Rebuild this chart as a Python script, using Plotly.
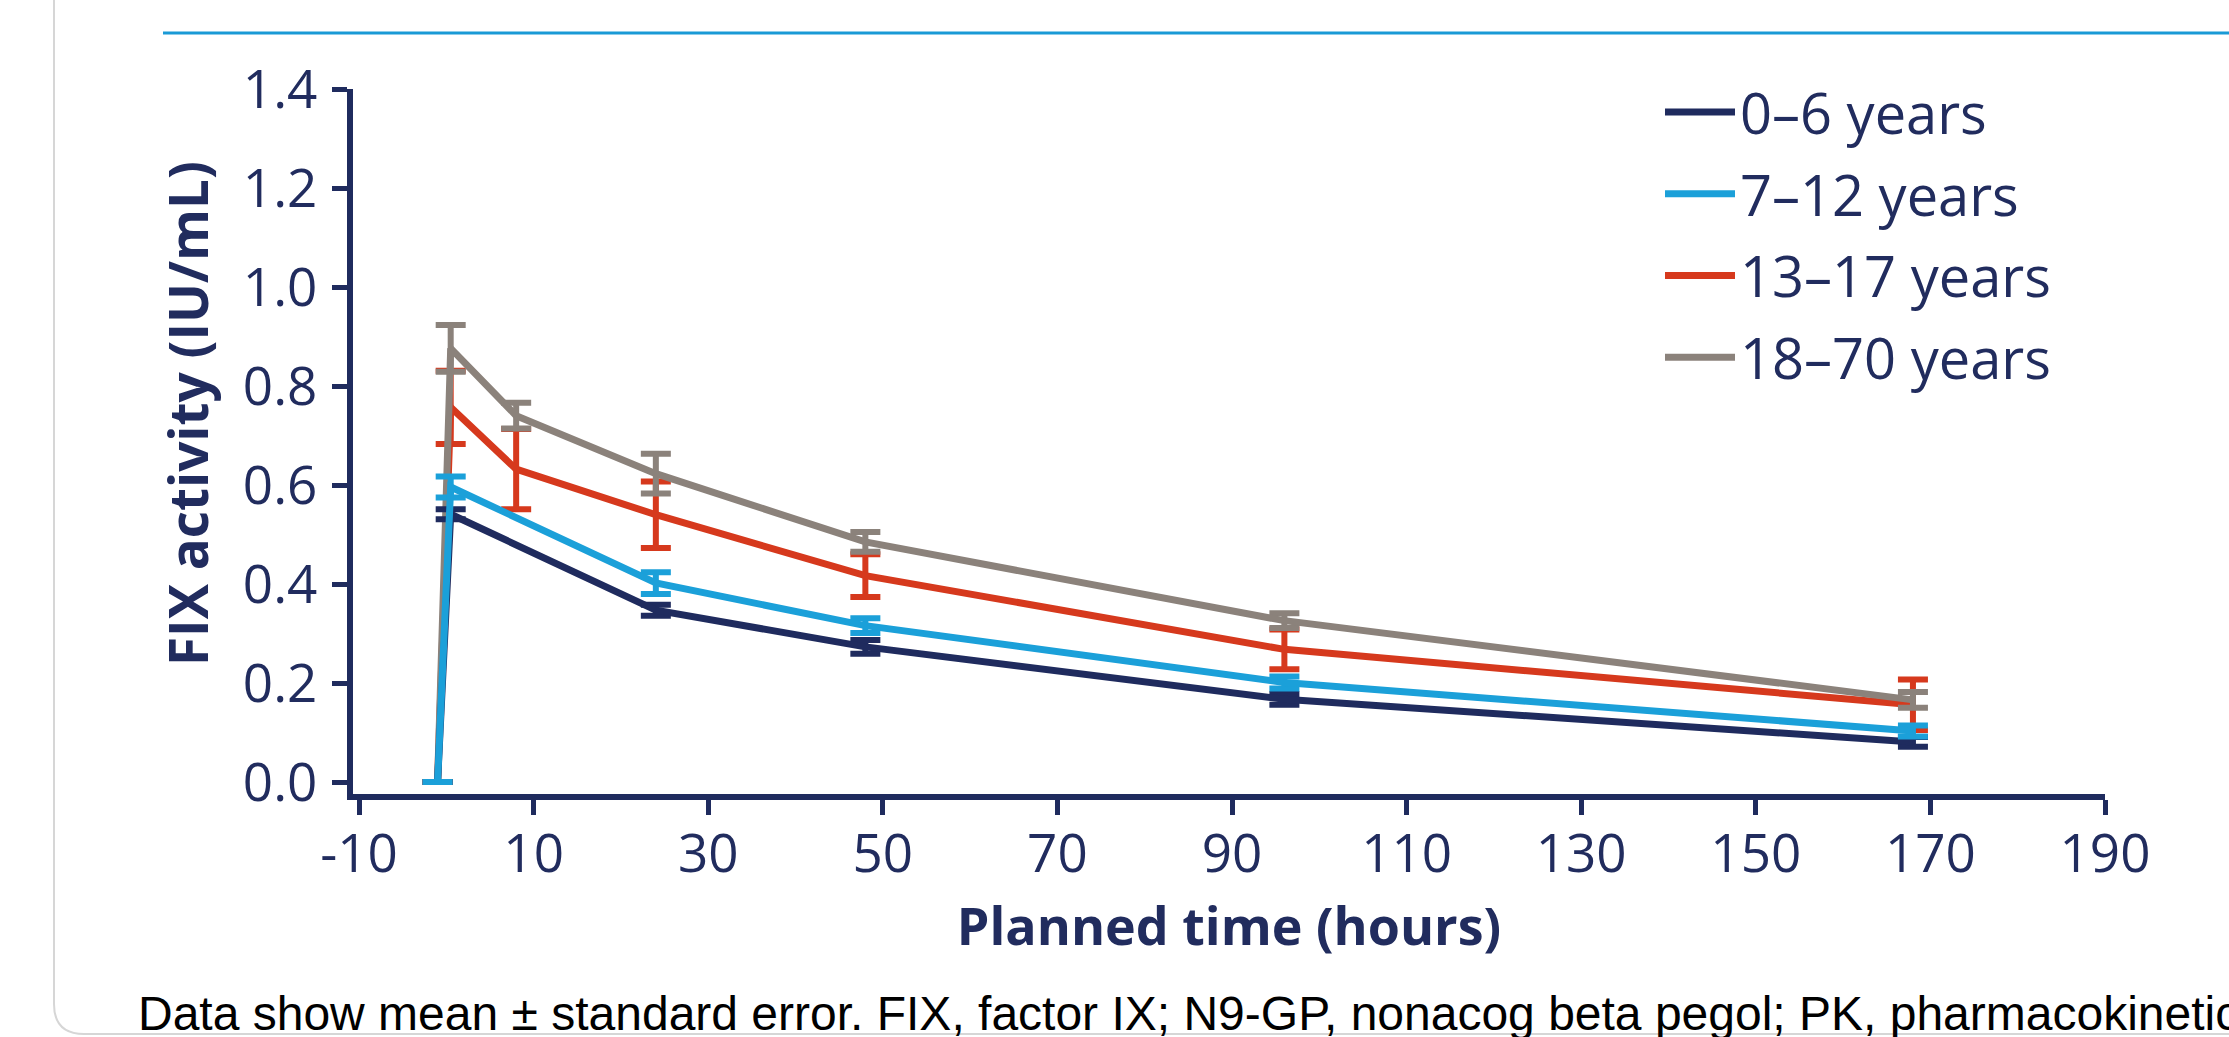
import plotly.graph_objects as go

# ---------------- data ----------------
groups = ["0–6 years", "7–12 years", "13–17 years", "18–70 years"]

time_0_6 = [-1, 0.5, 24, 48, 96, 168]
mean_0_6 = [0.0, 0.541, 0.347, 0.273, 0.167, 0.081]
se_0_6 = [0.0, 0.010, 0.011, 0.014, 0.011, 0.010]

time_7_12 = [-1, 0.5, 24, 48, 96, 168]
mean_7_12 = [0.0, 0.596, 0.402, 0.316, 0.201, 0.103]
se_7_12 = [None, 0.021, 0.022, 0.015, 0.012, 0.011]

time_13_17 = [-1, 0.5, 8, 24, 48, 96, 168]
mean_13_17 = [0.0, 0.757, 0.632, 0.540, 0.417, 0.268, 0.156]
se_13_17 = [None, 0.074, 0.081, 0.067, 0.043, 0.040, 0.051]

time_18_70 = [-1, 0.5, 8, 24, 48, 96, 168]
mean_18_70 = [0.0, 0.876, 0.740, 0.623, 0.485, 0.326, 0.166]
se_18_70 = [None, 0.047, 0.026, 0.040, 0.020, 0.015, 0.016]

x_tickvals = [-10, 10, 30, 50, 70, 90, 110, 130, 150, 170, 190]
x_ticktext = ["-10", "10", "30", "50", "70", "90", "110", "130", "150", "170", "190"]
y_tickvals = [0.0, 0.2, 0.4, 0.6, 0.8, 1.0, 1.2, 1.4]
y_ticktext = ["0.0", "0.2", "0.4", "0.6", "0.8", "1.0", "1.2", "1.4"]

x_title = "Planned time (hours)"
y_title = "FIX activity (IU/mL)"
footnote = ("Data show mean ± standard error. FIX, factor IX; N9-GP, nonacog beta pegol; "
            "PK, pharmacokinetic")

# ---------------- style ----------------
NAVY = "#1f2b5e"
BLUE = "#1ba0d9"
RED = "#d6391d"
GREY = "#8b827b"
TEXT = "#212c5e"
FONT = "Open Sans"

W, H = 2229, 1037
ML, MR, MT, MB = 353, 124, 89, 243
PW, PH = W - ML - MR, H - MT - MB


def px_x(p):
    return (p - ML) / PW


def px_y(p):
    return (H - MB - p) / PH


series = [
    # draw order: red, grey, navy, blue
    (groups[2], time_13_17, mean_13_17, se_13_17, RED, 3),
    (groups[3], time_18_70, mean_18_70, se_18_70, GREY, 4),
    (groups[0], time_0_6, mean_0_6, se_0_6, NAVY, 1),
    (groups[1], time_7_12, mean_7_12, se_7_12, BLUE, 2),
]

fig = go.Figure()
for name, t, m, se, col, rank in series:
    fig.add_trace(go.Scatter(
        x=t, y=m, name=name, mode="lines",
        line=dict(color=col, width=7),
        error_y=dict(type="data", array=se, visible=True, color=col,
                     thickness=6, width=15),
        legendgroup=name, legendrank=rank,
    ))

axis_common = dict(
    showline=True, linewidth=6, linecolor=NAVY,
    ticks="outside", ticklen=15, tickwidth=5, tickcolor=NAVY,
    showgrid=False, zeroline=False,
    tickfont=dict(family=FONT, size=53, color=TEXT),
)

fig.update_xaxes(range=[-10.69, 190], tickvals=x_tickvals, ticktext=x_ticktext,
                 ticklabelstandoff=-7,
                 title=dict(text=x_title, standoff=24,
                            font=dict(family=FONT, size=52, color=TEXT, weight="bold")),
                 **axis_common)
fig.update_yaxes(range=[-0.0242, 1.4], tickvals=y_tickvals, ticktext=y_ticktext,
                 ticklabelstandoff=4,
                 **axis_common)

annotations = [
    dict(text=y_title, textangle=-90, xref="paper", yref="paper",
         x=px_x(187), y=px_y(414), xanchor="center", yanchor="middle",
         showarrow=False, font=dict(family=FONT, size=53, color=TEXT, weight="bold")),
    dict(text=footnote, xref="paper", yref="paper",
         x=px_x(136), y=px_y(1013), xanchor="left", yanchor="middle",
         showarrow=False, font=dict(family="Liberation Sans", size=48, color="#000000")),
]

# rounded panel border (left + bottom) and blue header rule
bx, by, r = 54, 1034, 30
border_path = (f"M {px_x(bx)},{px_y(-5)} L {px_x(bx)},{px_y(by - r)} "
               f"Q {px_x(bx)},{px_y(by)} {px_x(bx + r)},{px_y(by)} L {px_x(W + 10)},{px_y(by)}")
shapes = [
    dict(type="path", path=border_path, xref="paper", yref="paper",
         line=dict(color="#d6d6d6", width=2)),
    dict(type="line", xref="paper", yref="paper", x0=px_x(163), x1=px_x(W + 5),
         y0=px_y(33), y1=px_y(33), line=dict(color="#1a9ad6", width=3)),
]

fig.update_layout(
    width=W, height=H,
    margin=dict(l=ML, r=MR, t=MT, b=MB, pad=0),
    paper_bgcolor="white", plot_bgcolor="white",
    showlegend=True,
    legend=dict(x=px_x(1660), y=px_y(69), xanchor="left", yanchor="top",
                font=dict(family=FONT, size=56, color=TEXT),
                bgcolor="rgba(0,0,0,0)", tracegroupgap=6, itemwidth=70,
                traceorder="grouped"),
    annotations=annotations,
    shapes=shapes,
)

fig.write_html("out.html", config={"displayModeBar": False},
               post_script="document.body.style.margin='0';document.body.style.overflow='hidden';")
